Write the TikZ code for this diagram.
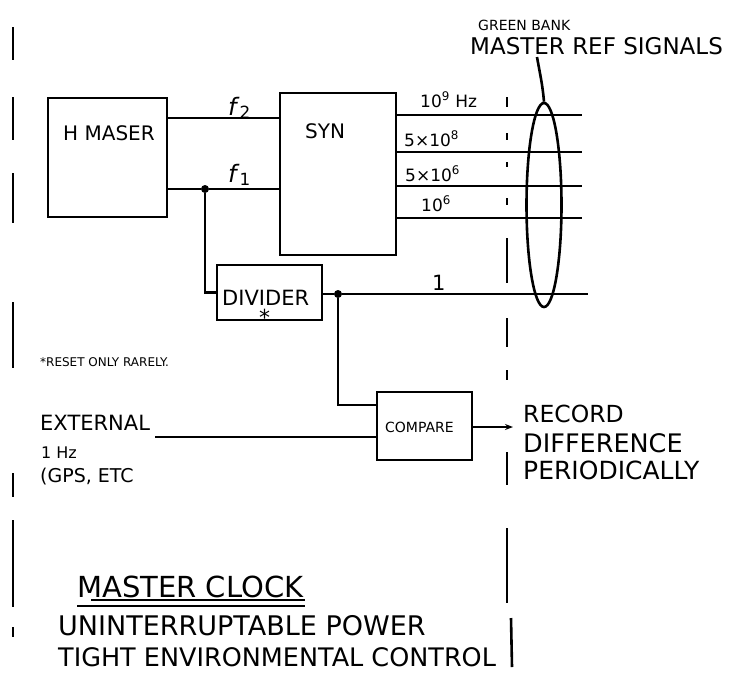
\documentclass[tikz,border=0pt]{standalone}
\usepackage{fontspec}
\setmainfont{DejaVu Sans}
\usetikzlibrary{shapes.geometric,arrows.meta}

\tikzset{
  blk/.style={draw, line width=2.6pt, minimum width=#1},
  wire/.style={line width=2.2pt},
  dot/.style={circle, fill, inner sep=0pt, minimum size=8pt},
  guide/.style={line width=2.6pt},
  txt/.style={inner sep=0pt, anchor=base west, font={\fontsize{#1}{#1}\selectfont}},
}

\begin{document}
\begin{tikzpicture}[x=1pt,y=-1pt]
  \useasboundingbox (0,0) rectangle (751,680);

  % blocks
  \node[blk=119pt, minimum height=119pt] (maser) at (107.5,157.5) {};
  \node[blk=116pt, minimum height=162pt] (syn) at (338,174) {};
  \node[blk=105pt, minimum height=55pt] (div) at (269.5,292.5) {};
  \node[blk=95pt, minimum height=68pt] (cmp) at (424.5,426) {};

  \node[txt=20] (maserlbl) at (63,140) {H MASER};
  \node[txt=20] (synlbl) at (305,138) {SYN};
  \node[txt=21] (divlbl) at (222,305) {DIVIDER};
  \node[txt=22] (star) at (259,325) {*};
  \node[txt=14] (cmplbl) at (385,432) {COMPARE};

  % maser to synthesiser
  \node[txt=24] (f2) at (228,115) {\textit{f}\textsubscript{2}};
  \node[txt=24] (f1) at (228,182) {\textit{f}\textsubscript{1}};
  \draw[wire] ([yshift=39.5pt]maser.east) -- ([yshift=39.5pt]maser.east -| syn.west);
  \node[dot] (tapa) at (205,189) {};
  \draw[wire] ([yshift=-31.5pt]maser.east) -- (tapa) -- (tapa -| syn.west);
  \draw[wire] (tapa) |- (div.west);

  % synthesiser outputs
  \foreach \yy/\lab/\xx/\bb in {115/{10\textsuperscript{9} Hz}/420/107, 152/{5×10\textsuperscript{8}}/404/146,
                              186/{5×10\textsuperscript{6}}/405/181, 218/{10\textsuperscript{6}}/421/211}{
    \coordinate (out\yy) at (582,\yy);
    \draw[wire] (syn.east |- out\yy) -- (out\yy);
    \node[txt=17] at (\xx,\bb) {\lab};
  }

  % divider output
  \node[dot] (tapb) at (338,294) {};
  \coordinate (outone) at (588,294);
  \draw[wire] (div.east |- tapb) -- (tapb) -- (outone);
  \node[txt=21] (onelbl) at (432,290) {1};
  \draw[wire] (tapb) |- ([yshift=21pt]cmp.west);

  % external input
  \node[txt=21] (ext) at (40,430) {EXTERNAL};
  \node[txt=16] (hz) at (41,458) {1 Hz};
  \node[txt=19] (gps) at (40,482) {(GPS, ETC};
  \coordinate (extin) at (155,437);
  \draw[wire] (extin) -- (extin -| cmp.west);

  % compare output
  \coordinate (rec) at (513,427);
  \draw[wire, -{Stealth[length=8pt]}] (cmp.east |- rec) -- (rec);
  \node[txt=23.5] (rec1) at (523,422) {RECORD};
  \node[txt=25.5] (rec2) at (523,452) {DIFFERENCE};
  \node[txt=25] (rec3) at (523,479) {PERIODICALLY};

  % bundle of reference signals
  \node[draw, guide, ellipse, minimum width=35pt, minimum height=204pt] (bundle) at (544,205) {};
  \node[txt=14] (gb) at (478,30) {GREEN BANK};
  \node[txt=23] (msr) at (470,54) {MASTER REF SIGNALS};
  \draw[guide] (bundle.north) to[out=95,in=-80] (537,57);

  \node[txt=12] (reset) at (40,366) {*RESET ONLY RARELY.};

  % notes
  \node[txt=29] (mc) at (77,597) {MASTER CLOCK};
  \draw[line width=1.4pt] (mc.base west) ++(14,3) -- ++(214,0);
  \draw[line width=1.4pt] (mc.base west) ++(0,9) -- ++(228,0);
  \node[txt=27] (ups) at (58,635) {UNINTERRUPTABLE POWER};
  \node[txt=25.5] (tec) at (58,666) {TIGHT ENVIRONMENTAL CONTROL};

  % boundary lines
  \foreach \ya/\yb in {27/60, 97/140, 173/223, 302/368, 473/497, 520/607, 627/637}
    \draw[guide] (13,\ya) -- (13,\yb);
  \foreach \ya/\yb in {97/107, 133/140, 162/167, 198/205, 238/283, 318/347, 370/380, 452/485, 528/603}
    \draw[guide] (507,\ya) -- (507,\yb);
  \draw[guide] (511,618) -- (512,667);
\end{tikzpicture}
\end{document}
